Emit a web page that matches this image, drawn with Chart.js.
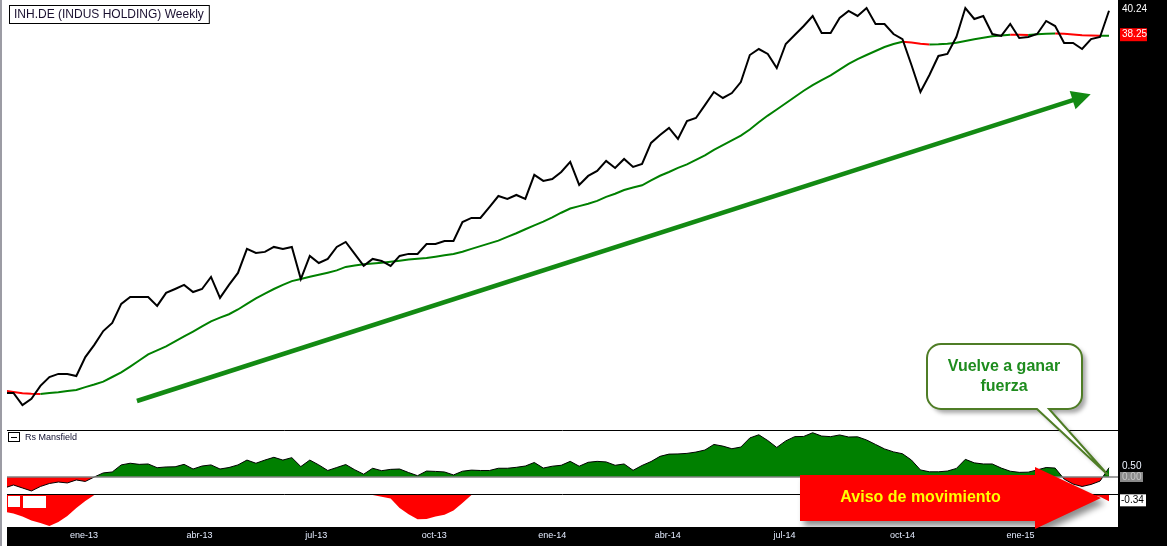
<!DOCTYPE html>
<html><head><meta charset="utf-8">
<script src="https://cdn.jsdelivr.net/npm/chart.js@4.4.1/dist/chart.umd.min.js"></script>
<style>
html,body{margin:0;padding:0;background:#fff;}
#wrap{position:relative;width:1167px;height:546px;overflow:hidden;background:#fff;}
canvas{position:absolute;left:7px;}
#edge{position:absolute;left:0;top:0;width:2px;height:546px;background:#9c9ca4;}
</style></head><body>
<div id="wrap">
<div id="edge"></div>
<canvas id="cMain" width="1160" height="430" style="top:0px"></canvas>
<canvas id="cRs" width="1160" height="64" style="top:430px"></canvas>
<canvas id="cLow" width="1160" height="216" style="top:330px"></canvas>
</div>
<script>
// ---------------- data ----------------
const title = 'INH.DE (INDUS HOLDING) Weekly';
const indicatorName = 'Rs Mansfield';
const calloutText = ['Vuelve a ganar', 'fuerza'];
const warningText = 'Aviso de movimiento';

const startDate = '2012-10-31';   // first weekly bar
const tickDates = ['2013-01-01','2013-04-01','2013-07-01','2013-10-01','2014-01-01','2014-04-01','2014-07-01','2014-10-01','2015-01-01'];
const tickLabels = ['ene-13','abr-13','jul-13','oct-13','ene-14','abr-14','jul-14','oct-14','ene-15'];

const price = [18.53,18.53,18.08,18.31,18.80,19.14,19.26,19.26,19.18,19.93,
 20.43,21.01,21.36,22.20,22.51,22.51,22.51,22.11,22.70,22.88,
 23.07,22.74,22.88,23.45,22.47,23.07,23.64,24.82,24.62,24.67,
 24.92,24.82,24.92,23.35,24.47,24.12,24.32,24.92,25.17,24.57,
 23.98,24.32,24.22,23.98,24.47,24.57,24.57,25.07,25.07,25.22,
 25.22,26.21,26.43,26.43,27.02,27.63,27.47,27.69,27.47,28.84,
 28.49,28.60,29.01,29.61,28.26,28.78,29.07,29.67,29.25,29.79,
 29.31,29.49,30.77,31.27,31.72,31.02,32.17,32.37,33.23,34.12,
 33.71,34.05,34.82,36.78,37.23,36.86,35.82,37.61,38.31,39.01,
 39.81,38.46,38.46,39.65,40.22,39.81,40.46,39.17,39.17,38.38,
 37.99,36.04,34.12,35.32,36.71,36.86,38.15,40.46,39.57,39.81,
 38.38,38.23,39.17,38.07,38.15,38.38,39.41,39.01,37.69,37.69,
 37.23,37.99,38.15,40.24];

const movingAvg = [18.62,18.57,18.52,18.50,18.49,18.53,18.56,18.60,18.64,18.75,
 18.85,18.96,19.14,19.32,19.55,19.79,20.04,20.20,20.37,20.57,
 20.78,20.99,21.21,21.43,21.59,21.74,21.95,22.20,22.45,22.67,
 22.88,23.07,23.25,23.35,23.46,23.55,23.65,23.76,23.93,24.00,
 24.06,24.10,24.13,24.18,24.23,24.29,24.33,24.37,24.43,24.50,
 24.56,24.68,24.82,24.96,25.10,25.24,25.43,25.62,25.83,26.03,
 26.23,26.46,26.71,26.94,27.07,27.20,27.36,27.58,27.76,27.97,
 28.11,28.24,28.52,28.79,29.01,29.25,29.46,29.73,30.00,30.34,
 30.63,30.93,31.23,31.62,32.09,32.53,32.93,33.35,33.78,34.21,
 34.60,34.95,35.30,35.71,36.12,36.48,36.78,37.08,37.38,37.61,
 37.78,37.72,37.63,37.57,37.59,37.63,37.70,37.84,37.98,38.09,
 38.20,38.26,38.33,38.32,38.31,38.37,38.41,38.43,38.40,38.34,
 38.29,38.27,38.24,38.25];

const rsMansfield = [-0.59,-0.43,-0.59,-0.75,-0.51,-0.35,-0.27,-0.32,-0.16,-0.24,
 0.00,0.22,0.27,0.65,0.74,0.68,0.70,0.50,0.54,0.55,
 0.68,0.43,0.59,0.65,0.43,0.51,0.65,0.91,0.74,0.91,
 1.06,0.91,1.04,0.56,0.91,0.65,0.35,0.51,0.67,0.39,
 0.15,0.47,0.34,0.41,0.43,0.24,0.07,0.32,0.30,0.27,
 0.11,0.31,0.37,0.35,0.35,0.47,0.47,0.52,0.59,0.78,
 0.48,0.58,0.63,0.84,0.58,0.79,0.84,0.81,0.63,0.70,
 0.36,0.62,0.83,1.11,1.23,1.24,1.27,1.34,1.45,1.75,
 1.66,1.52,1.61,2.10,2.27,1.96,1.59,1.94,2.17,2.18,
 2.38,2.20,2.17,2.26,2.15,2.16,1.99,1.75,1.51,1.35,
 1.25,0.91,0.38,0.28,0.28,0.32,0.46,0.95,0.76,0.70,
 0.70,0.48,0.31,0.25,0.26,0.38,0.51,0.48,-0.11,-0.38,
 -0.51,-0.40,-0.22,0.50];

const rsLower = [-0.91,-0.99,-1.16,-1.37,-1.51,-1.67,-1.45,-1.13,-0.70,-0.32,
 0,0,0,0,0,0,0,0,0,0,
 0,0,0,0,0,0,0,0,0,0,
 0,0,0,0,0,0,0,0,0,0,
 0,0,-0.09,-0.19,-0.70,-1.03,-1.31,-1.29,-1.16,-1.06,
 -0.83,-0.43,0,0,0,0,0,0,0,0,
 0,0,0,0,0,0,0,0,0,0,
 0,0,0,0,0,0,0,0,0,0,
 0,0,0,0,0,0,0,0,0,0,
 0,0,0,0,0,0,0,0,0,0,
 0,0,0,0,0,0,0,0,0,0,
 0,0,0,0,0,0,0,0,0,0,
 0,0,-0.10,-0.34];

// trend arrow annotation (week index, price)
const trendArrow = {from:[14.75, 18.23], to:[120.96, 33.96]};

// ---------------- scales ----------------
const X_MIN = 0.28, X_MAX = 124.0;
const PRICE_MIN = 17.189, PRICE_MAX = 41.123;
const RS_MIN = -0.914, RS_MAX = 2.473;
const LOW_MIN = -1.72, LOW_MAX = 0;

const FONT = '"Liberation Sans", Arial, sans-serif';
const DAY = 864e5;
const tickPos = tickDates.map(d => (Date.parse(d) - Date.parse(startDate)) / (7 * DAY));
const pts = arr => arr.map((v, i) => ({x: i, y: v}));

const base = {
  responsive: false, animation: false, devicePixelRatio: 1, events: [],
  plugins: {legend: {display: false}, tooltip: {enabled: false}}
};
const xHidden = {type: 'linear', min: X_MIN, max: X_MAX, display: false, bounds: 'data'};

// ---------------- plugins ----------------
const mainDeco = {
  id: 'mainDeco',
  beforeDraw(ch) {
    const {ctx, chartArea: a} = ch;
    ctx.save(); ctx.fillStyle = '#000';
    ctx.fillRect(a.right, 0, ch.width - a.right, ch.height);
    ctx.restore();
  },
  afterDatasetsDraw(ch) {
    const {ctx, chartArea: a, scales: {x, y}} = ch;
    ctx.save();
    // trend arrow
    const x1 = x.getPixelForValue(trendArrow.from[0]), y1 = y.getPixelForValue(trendArrow.from[1]);
    const x2 = x.getPixelForValue(trendArrow.to[0]), y2 = y.getPixelForValue(trendArrow.to[1]);
    const ang = Math.atan2(y2 - y1, x2 - x1), hl = 19, hw = 9.5;
    const bx = x2 - hl * Math.cos(ang), by = y2 - hl * Math.sin(ang);
    ctx.strokeStyle = '#138a13'; ctx.fillStyle = '#138a13';
    ctx.lineWidth = 4.5; ctx.lineCap = 'butt';
    ctx.beginPath(); ctx.moveTo(x1, y1);
    ctx.lineTo(bx + 2 * Math.cos(ang), by + 2 * Math.sin(ang)); ctx.stroke();
    ctx.beginPath(); ctx.moveTo(x2, y2);
    ctx.lineTo(bx - hw * Math.sin(ang), by + hw * Math.cos(ang));
    ctx.lineTo(bx + hw * Math.sin(ang), by - hw * Math.cos(ang));
    ctx.closePath(); ctx.fill();
    // title box
    ctx.font = '12px ' + FONT;
    const tw = ctx.measureText(title).width;
    ctx.fillStyle = '#fff'; ctx.fillRect(2.5, 5.5, tw + 10, 18);
    ctx.strokeStyle = '#000'; ctx.lineWidth = 1; ctx.strokeRect(2.5, 5.5, tw + 10, 18);
    ctx.fillStyle = '#1a1030'; ctx.textBaseline = 'middle'; ctx.textAlign = 'left';
    ctx.fillText(title, 7, 15);
    // right value tags
    const lp = price[price.length - 1], lm = movingAvg[movingAvg.length - 1];
    const py = y.getPixelForValue(lp), my = y.getPixelForValue(lm);
    ctx.font = '10px ' + FONT;
    ctx.fillStyle = '#fff'; ctx.fillText(lp.toFixed(2), a.right + 4, py - 1);
    ctx.fillStyle = '#ff0000'; ctx.fillRect(a.right + 2, my - 7.5, 27, 13);
    ctx.fillStyle = '#fff'; ctx.fillText(lm.toFixed(2), a.right + 4, my - 1);
    ctx.restore();
  }
};

const rsDeco = {
  id: 'rsDeco',
  beforeDraw(ch) {
    const {ctx, chartArea: a} = ch;
    ctx.save(); ctx.fillStyle = '#000';
    ctx.fillRect(a.right, 0, ch.width - a.right, ch.height);
    ctx.restore();
  },
  afterDatasetsDraw(ch) {
    const {ctx, chartArea: a, scales: {y}} = ch;
    const z = y.getPixelForValue(0);
    ctx.save();
    ctx.strokeStyle = '#808080'; ctx.lineWidth = 1.5;
    ctx.beginPath(); ctx.moveTo(a.left, z); ctx.lineTo(a.right, z); ctx.stroke();
    ctx.strokeStyle = '#000'; ctx.lineWidth = 1;
    ctx.beginPath(); ctx.moveTo(0, 0.5); ctx.lineTo(a.right, 0.5); ctx.stroke();
    // panel label
    ctx.fillStyle = '#fff'; ctx.fillRect(1.5, 2.5, 11, 9);
    ctx.strokeRect(1.5, 2.5, 11, 9);
    ctx.beginPath(); ctx.moveTo(4, 7.5); ctx.lineTo(10, 7.5); ctx.stroke();
    ctx.font = '9px ' + FONT; ctx.fillStyle = '#101030';
    ctx.textBaseline = 'middle'; ctx.textAlign = 'left';
    ctx.fillText(indicatorName, 18, 7.5);
    // right tags
    const lv = rsMansfield[rsMansfield.length - 1];
    const vy = y.getPixelForValue(lv);
    ctx.font = '10px ' + FONT;
    ctx.fillStyle = '#eef4ff'; ctx.fillText(lv.toFixed(2), a.right + 4, vy - 1);
    ctx.fillStyle = '#8a8a8a'; ctx.fillRect(a.right + 2, z - 5, 23, 10);
    ctx.fillStyle = '#c8c8c8'; ctx.fillText((0).toFixed(2), a.right + 4, z);
    ctx.restore();
  }
};

const lowDeco = {
  id: 'lowDeco',
  beforeDraw(ch) {
    const {ctx, chartArea: a} = ch;
    ctx.save(); ctx.fillStyle = '#000';
    ctx.fillRect(0, a.bottom, a.right, ch.height - a.bottom);
    ctx.fillRect(a.right, a.top - 1, ch.width - a.right, ch.height - a.top + 1);
    ctx.restore();
  },
  afterDatasetsDraw(ch) {
    const {ctx, chartArea: a, scales: {y}} = ch;
    ctx.save();
    ctx.strokeStyle = '#000'; ctx.lineWidth = 1;
    ctx.beginPath(); ctx.moveTo(0, a.top - 0.5); ctx.lineTo(a.right, a.top - 0.5); ctx.stroke();
    ctx.fillStyle = '#fff';
    ctx.fillRect(1, a.top + 1, 12, 11);
    ctx.fillRect(16, a.top + 1, 23, 12);
    const lv = rsLower[rsLower.length - 1];
    const vy = y.getPixelForValue(lv);
    ctx.fillRect(a.right + 2, vy - 7, 26, 12);
    ctx.fillStyle = '#000'; ctx.font = '10px ' + FONT;
    ctx.textBaseline = 'middle'; ctx.textAlign = 'left';
    ctx.fillText(lv.toFixed(2), a.right + 3, vy - 1);
    ctx.restore();
  },
  afterDraw(ch) {
    const {ctx} = ch;
    ctx.save();
    // callout
    const L = 920, T = 14, R = 1075, B = 79, r = 14;
    ctx.beginPath();
    ctx.moveTo(L + r, T);
    ctx.lineTo(R - r, T); ctx.arcTo(R, T, R, T + r, r);
    ctx.lineTo(R, B - r); ctx.arcTo(R, B, R - r, B, r);
    ctx.lineTo(1042, B); ctx.lineTo(1101, 145); ctx.lineTo(1030, B);
    ctx.lineTo(L + r, B); ctx.arcTo(L, B, L, B - r, r);
    ctx.lineTo(L, T + r); ctx.arcTo(L, T, L + r, T, r);
    ctx.closePath();
    ctx.shadowColor = 'rgba(0,0,0,0.35)'; ctx.shadowOffsetX = 4; ctx.shadowOffsetY = 4; ctx.shadowBlur = 4;
    ctx.fillStyle = '#fff'; ctx.fill();
    ctx.shadowColor = 'rgba(0,0,0,0)';
    ctx.strokeStyle = '#4f7d26'; ctx.lineWidth = 2; ctx.stroke();
    ctx.fillStyle = '#1e8c1e'; ctx.font = 'bold 16px ' + FONT;
    ctx.textAlign = 'center'; ctx.textBaseline = 'middle';
    ctx.fillText(calloutText[0], 997, 37);
    ctx.fillText(calloutText[1], 997, 57);
    // red block arrow
    ctx.beginPath();
    ctx.moveTo(793, 145); ctx.lineTo(1028, 145); ctx.lineTo(1028, 137);
    ctx.lineTo(1094, 168); ctx.lineTo(1028, 199); ctx.lineTo(1028, 191);
    ctx.lineTo(793, 191); ctx.closePath();
    ctx.shadowColor = 'rgba(0,0,0,0.45)'; ctx.shadowOffsetX = 4; ctx.shadowOffsetY = 5; ctx.shadowBlur = 6;
    ctx.fillStyle = '#ff0000'; ctx.fill();
    ctx.shadowColor = 'rgba(0,0,0,0)';
    ctx.fillStyle = '#ffff00'; ctx.font = 'bold 16px ' + FONT;
    ctx.fillText(warningText, 913.5, 167.5);
    ctx.restore();
  }
};

// ---------------- charts ----------------
new Chart(document.getElementById('cMain'), {
  type: 'line',
  data: {datasets: [
    {data: pts(price), borderColor: '#000', borderWidth: 2, pointRadius: 0, tension: 0, fill: false},
    {data: pts(movingAvg), borderColor: '#008000', borderWidth: 2, pointRadius: 0, tension: 0, fill: false,
     segment: {borderColor: c => c.p1.parsed.y < c.p0.parsed.y ? '#ff0000' : '#008000'}}
  ]},
  options: {...base, layout: {padding: {right: 49}},
    scales: {x: xHidden, y: {type: 'logarithmic', min: PRICE_MIN, max: PRICE_MAX, display: false, bounds: 'data'}}},
  plugins: [mainDeco]
});

new Chart(document.getElementById('cRs'), {
  type: 'line',
  data: {datasets: [
    {data: pts(rsMansfield), borderColor: '#000', borderWidth: 1, pointRadius: 0, tension: 0,
     backgroundColor: '#008000', fill: {target: 'origin', above: '#008000', below: '#ff0000'}}
  ]},
  options: {...base, layout: {padding: {top: 1, right: 49}},
    scales: {x: xHidden, y: {type: 'linear', min: RS_MIN, max: RS_MAX, display: false, bounds: 'data'}}},
  plugins: [rsDeco]
});

new Chart(document.getElementById('cLow'), {
  type: 'line',
  data: {datasets: [
    {data: pts(rsLower), borderColor: 'rgba(0,0,0,0)', borderWidth: 1, pointRadius: 0, tension: 0,
     backgroundColor: '#ff0000', fill: {target: 'origin', above: '#ff0000', below: '#ff0000'}}
  ]},
  options: {...base, layout: {padding: {top: 165, right: 49}},
    scales: {
      x: {type: 'linear', min: X_MIN, max: X_MAX, bounds: 'data', position: 'bottom',
        afterBuildTicks: s => { s.ticks = tickPos.map(v => ({value: v})); },
        afterFit: s => { s.height = 19; },
        grid: {display: false, drawTicks: false}, border: {display: false},
        ticks: {autoSkip: false, maxRotation: 0, minRotation: 0, padding: 3, color: '#e4ecff',
          font: {family: FONT, size: 9}, callback: (v, i) => tickLabels[i]}},
      y: {type: 'linear', min: LOW_MIN, max: LOW_MAX, display: false, bounds: 'data'}
    }},
  plugins: [lowDeco]
});
</script>
</body></html>
